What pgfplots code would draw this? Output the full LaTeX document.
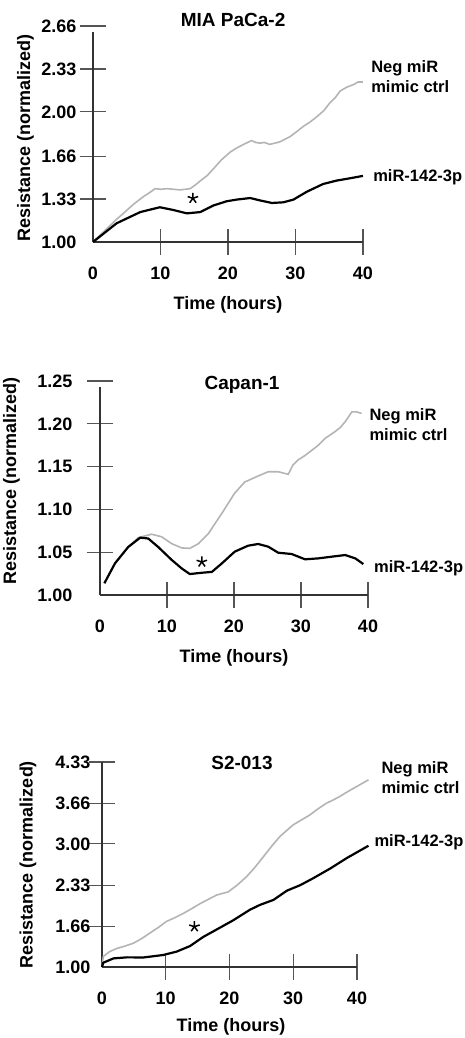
\documentclass[border=0pt]{standalone}
\usepackage{pgfplots}
\pgfplotsset{compat=1.18}
\usepackage{fontspec}
\setmainfont{Liberation Sans}
\definecolor{negc}{HTML}{B4B4B4}
\definecolor{axc}{HTML}{333333}
\definecolor{tkc}{HTML}{555555}
\tikzset{lab/.style={anchor=west, align=left, font=\bfseries\fontsize{16.5}{20}\selectfont}}
\pgfplotsset{
  panel/.style={
    scale only axis,
    axis x line=bottom, axis y line=left,
    axis line style={-, draw=axc, line width=1.6pt},
    tick align=center,
    major tick length=26pt,
    tick style={draw=tkc, line width=1.2pt},
    xmin=0, xmax=40,
    xtick={10,20,30,40},
    extra x ticks={0}, extra x tick labels={0},
    extra tick style={tick style={draw=none}},
    clip=false,
    /pgf/number format/assume math mode=true,
    tick label style={font=\bfseries\fontsize{18}{21}\selectfont, text=black},
    yticklabel style={/pgf/number format/fixed, /pgf/number format/fixed zerofill, /pgf/number format/precision=2},
    xticklabel style={yshift=-8pt},
    title style={font=\bfseries\fontsize{19}{22}\selectfont, anchor=center, yshift=-6pt},
    xlabel={Time (hours)},
    ylabel={Resistance (normalized)},
    every axis y label/.style={rotate=90, anchor=center, font=\bfseries\fontsize{18}{21}\selectfont},
    every axis x label/.style={anchor=center, font=\bfseries\fontsize{18}{21}\selectfont},
  },
  neg/.style={draw=negc, line width=1.6pt, line join=round, no marks},
  mir/.style={draw=black, line width=2.2pt, line join=round, no marks},
  starm/.style={only marks, mark=star, mark size=5.5pt, mark options={draw=black, line width=1.5pt}},
}
\begin{document}
\begin{tikzpicture}
\useasboundingbox (0,0) rectangle (464pt,-1038pt);

% ---------------- Panel 1: MIA PaCa-2
\begin{axis}[panel,
  at={(93pt,-242pt)}, anchor=south west,
  width=270pt, height=216pt,
  ymin=1, ymax=2.66,
  ytick={1.33,1.66,2.00,2.33,2.66},
  extra y ticks={1}, extra y tick labels={1.00},
  yticklabel style={xshift=0pt},
  y axis line style={shorten >=6pt},
  title={MIA PaCa-2}, title style={at={(axis description cs:0.519,1.028)}},
  ylabel style={at={(axis description cs:-0.25,0.48)}},
  xlabel style={at={(axis description cs:0.5,-0.29)}},
]
\addplot[neg] coordinates {
(0,1.00) (1.2,1.06) (2.2,1.11) (3.4,1.17) (4.5,1.22) (6.0,1.29) (7.5,1.35) (8.4,1.38) (9.2,1.41) (10.1,1.405) (10.9,1.41)
(12.0,1.405) (12.9,1.40) (13.6,1.405) (14.4,1.41) (15.2,1.44) (15.9,1.47) (16.9,1.51) (17.8,1.56) (19.0,1.63)
(20.3,1.69) (21.2,1.72) (22.3,1.75) (23.5,1.78) (24.1,1.765) (24.7,1.76) (25.4,1.765) (26.2,1.75) (27.7,1.77)
(29.2,1.81) (30.1,1.845) (31.2,1.89) (32.1,1.92) (33.1,1.96) (34.2,2.01) (35.1,2.07) (35.9,2.11) (36.6,2.16) (37.6,2.19) (38.6,2.21) (39.3,2.23) (40,2.23)
};
\addplot[mir] coordinates {
(0,1.00) (3.5,1.144) (7.0,1.23) (9.9,1.267) (11.9,1.246) (13.9,1.22) (15.9,1.23)
(17.8,1.28) (19.8,1.313) (21.3,1.326) (23.3,1.338) (24.7,1.32) (26.5,1.30)
(28.2,1.305) (29.7,1.326) (31.7,1.387) (34.1,1.446) (36.1,1.472) (38.1,1.49) (40,1.508)
};
\addplot[starm] coordinates {(14.8,1.336)};
\node[lab] at (axis cs:40.7,2.27) {Neg miR\\mimic ctrl};
\node[lab] at (axis cs:41.0,1.50) {miR-142-3p};
\end{axis}

% ---------------- Panel 2: Capan-1
\begin{axis}[panel,
  at={(100pt,-595pt)}, anchor=south west,
  width=268pt, height=214pt,
  ymin=1, ymax=1.25,
  ytick={1.05,1.10,1.15,1.20,1.25},
  extra y ticks={1}, extra y tick labels={1.00},
  yticklabel style={xshift=-11pt},
  y axis line style={shorten >=6pt},
  title={Capan-1}, title style={at={(axis description cs:0.53,0.981)}},
  ylabel style={at={(axis description cs:-0.33,0.533)}},
  xlabel style={at={(axis description cs:0.5,-0.294)}},
]
\addplot[neg] coordinates {
(0.65,1.0137) (2.24,1.037) (4.2,1.056) (5.7,1.067) (7.7,1.071) (9.2,1.068)
(10.7,1.060) (12.2,1.055) (13.4,1.0545) (14.7,1.060) (16.2,1.072) (18.2,1.0955)
(20.1,1.119) (21.6,1.132) (23.6,1.139) (25.1,1.144) (26.6,1.144) (28.1,1.141)
(28.8,1.152) (29.6,1.158) (30.6,1.163) (31.6,1.169) (32.6,1.175) (33.6,1.183) (35.1,1.191) (35.9,1.196) (36.6,1.2025) (37.6,1.214)
(38.3,1.214) (39.05,1.212)
};
\addplot[mir] coordinates {
(0.65,1.0137) (2.24,1.037) (4.2,1.056) (6.0,1.067) (7.2,1.066) (8.7,1.056)
(10.7,1.041) (12.2,1.031) (13.4,1.0245) (15.2,1.026) (16.7,1.027) (18.2,1.037)
(20.1,1.0506) (22.1,1.0576) (23.6,1.0596) (25.1,1.0565) (26.6,1.0494) (28.6,1.0479)
(30.6,1.0417) (32.6,1.0428) (34.6,1.0448) (36.6,1.0467) (38.1,1.0428) (39.3,1.0362)
};
\addplot[starm] coordinates {(15.2,1.0386)};
\node[lab] at (axis cs:39.7,1.199) {Neg miR\\mimic ctrl};
\node[lab] at (axis cs:40.4,1.0315) {miR-142-3p};
\end{axis}

% ---------------- Panel 3: S2-013
\begin{axis}[panel,
  at={(102pt,-967pt)}, anchor=south west,
  width=255pt, height=205pt,
  ymin=1, ymax=4.33,
  ytick={1.66,2.33,3.00,3.66,4.33},
  extra y ticks={1}, extra y tick labels={1.00},
  yticklabel style={xshift=5pt},
  title={S2-013}, title style={at={(axis description cs:0.549,0.995)}},
  ylabel style={at={(axis description cs:-0.29,0.5)}},
  xlabel style={at={(axis description cs:0.506,-0.293)}},
]
\addplot[neg] coordinates {
(0,1.00) (0.2,1.17) (1.2,1.25) (2.3,1.30) (3.6,1.34) (4.9,1.385) (6.2,1.46) (7.5,1.55) (8.8,1.64) (10.1,1.74) (11.4,1.80) (12.75,1.87)
(14.1,1.95) (15.4,2.03) (16.7,2.10) (18.0,2.17) (19.8,2.22) (21.2,2.33) (22.7,2.47) (24.0,2.62) (25.3,2.79) (26.6,2.96) (27.9,3.12)
(29.0,3.22) (30.0,3.31) (31.3,3.39) (32.6,3.47) (33.9,3.57) (35.2,3.66) (36.2,3.71) (37.3,3.77) (38.4,3.84) (39.4,3.90) (40.6,3.97) (41.8,4.04)
};
\addplot[mir] coordinates {
(0,1.00) (0.2,1.07) (1.8,1.14) (3.9,1.157) (6.5,1.155) (9.6,1.195) (11.7,1.25)
(13.8,1.34) (15.9,1.49) (18.0,1.61) (20.6,1.76) (23.2,1.93) (24.8,2.01)
(26.9,2.09) (29.0,2.24) (31.1,2.33) (33.1,2.44) (35.8,2.60) (38.4,2.77) (41.8,2.97)
};
\addplot[starm] coordinates {(14.5,1.655)};
\node[lab] at (axis cs:43.3,4.08) {Neg miR\\mimic ctrl};
\node[lab] at (axis cs:42.2,3.03) {miR-142-3p};
\end{axis}
\end{tikzpicture}
\end{document}
